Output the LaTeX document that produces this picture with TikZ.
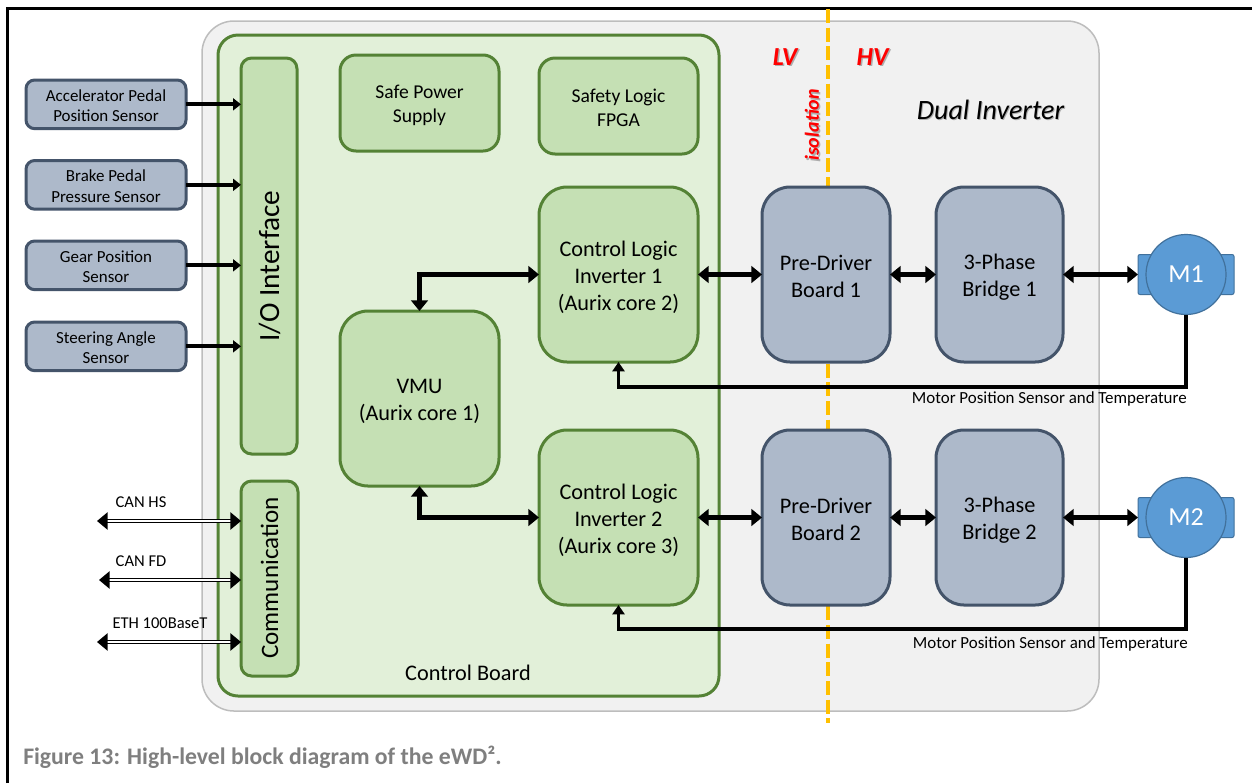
\documentclass[tikz,border=0pt]{standalone}
\usepackage{fontspec}
\setmainfont{Carlito}
\usetikzlibrary{arrows.meta,shapes.geometric}
\definecolor{outerfill}{HTML}{F1F1F1}
\definecolor{outerline}{HTML}{BDBDBD}
\definecolor{gfill}{HTML}{E2F0D9}
\definecolor{gbox}{HTML}{C5E0B4}
\definecolor{gline}{HTML}{548235}
\definecolor{bfill}{HTML}{ADB9CA}
\definecolor{bline}{HTML}{44546A}
\definecolor{mfill}{HTML}{5B9BD5}
\definecolor{mline}{HTML}{41719C}
\definecolor{capt}{HTML}{7F7F7F}
\definecolor{iso}{HTML}{FFC000}
\newcommand{\firstline}[1]{\rule{0pt}{#1}}
\tikzset{
 x=0.75pt,y=-0.75pt,
 px/.style={line width=#1*0.75pt},
 anchored/.style={anchor=north west,inner sep=0pt,outer sep=0pt,align=center},
 gbx/.style={anchored,fill=gbox,draw=gline,px=3},
 bbx/.style={anchored,fill=bfill,draw=bline,px=3},
 smallbox/.style={rounded corners=12pt,minimum width=119.25pt,minimum height=72pt,font=\fontsize{14.7pt}{18pt}\selectfont},
 bigtext/.style={rounded corners=21pt,minimum height=131.25pt,font=\fontsize{16.7pt}{20.2pt}\selectfont},
 sens/.style={anchored,fill=bfill,draw=bline,px=3,rounded corners=6.5pt,minimum width=120pt,minimum height=36.5pt,font=\fontsize{12.7pt}{15.5pt}\selectfont},
 lab/.style={inner sep=0pt,font=\fontsize{12.4pt}{14pt}\selectfont},
 mlab/.style={inner sep=0pt,anchor=east,font=\fontsize{12.7pt}{14pt}\selectfont},
 one/.style={px=4,-{Triangle[length=6pt,width=9pt]}},
 two/.style={px=4.5,{Triangle[length=8pt,width=12.5pt]}-{Triangle[length=8pt,width=12.5pt]}},
 ctl/.style={px=3.4,-{Triangle[length=7pt,width=9pt]},rounded corners=0pt},
 bus/.style={px=1.7,double,double distance=0.8pt,{Triangle[length=8pt,width=13pt]}-{Triangle[length=8pt,width=13pt]}},
 red/.style={text=red,font=\bfseries\itshape\fontsize{19.5pt}{22pt}\selectfont,inner sep=0pt},
 redsm/.style={red,rotate=90,font=\bfseries\itshape\fontsize{15pt}{17pt}\selectfont},
 shade/.style={text=black,text opacity=0.28},
 dualtxt/.style={font=\itshape\fontsize{21pt}{24pt}\selectfont,inner sep=0pt},
 motor/.style={circle,fill=mfill,draw=mline,px=1.2,inner sep=0pt,minimum size=60pt,text=white,font=\fontsize{19.5pt}{22pt}\selectfont},
}
\begin{document}
\begin{tikzpicture}
\useasboundingbox (0,0) rectangle (1252,783);
\fill[white] (0,0) rectangle (1252,783);
\draw[black,px=3] (7,783) -- (7,8) -- (1252,8);
% outer
\node[anchored,fill=outerfill,draw=outerline,px=1.5,rounded corners=24pt,minimum width=672.75pt,minimum height=517.5pt] (outer) at (202,21) {};
\node[anchored,fill=gfill,draw=gline,px=3,rounded corners=15pt,minimum width=375.75pt,minimum height=495.75pt] (board) at (218,35) {};
% isolation line
\coordinate (isoT) at (828,9);
\coordinate (isoB) at (828,723);
\draw[iso,px=4,dash pattern=on 10.5pt off 3.5pt] (isoT) -- (isoB);
% left column
\node[gbx,rounded corners=8pt,minimum width=42pt,minimum height=297pt] (io) at (241,58) {};
\node[rotate=90,font=\fontsize{22pt}{24pt}\selectfont,inner sep=0pt] (iot) at (269.5,266) {I/O Interface};
\node[gbx,rounded corners=8pt,minimum width=42.75pt,minimum height=146.25pt] (com) at (241,481) {};
\node[rotate=90,font=\fontsize{18.8pt}{22pt}\selectfont,inner sep=0pt] (comt) at (269.5,578) {Communication};
% green boxes
\node[gbx,smallbox] (spow) at (340,55) {\firstline{14pt}Safe Power\\Supply};
\node[gbx,smallbox] (slog) at (539,58) {\firstline{13pt}Safety Logic\\FPGA};
\node[gbx,bigtext,minimum width=119.25pt] (cl1) at (539,187) {\firstline{15.5pt}Control Logic\\Inverter 1\\(Aurix core 2)};
\node[gbx,bigtext,minimum width=119.25pt] (cl2) at (539,430) {\firstline{15.5pt}Control Logic\\Inverter 2\\(Aurix core 3)};
\node[gbx,bigtext,minimum width=119.25pt] (vmu) at (340,311) {\firstline{15.5pt}VMU\\(Aurix core 1)};
% blue boxes
\node[bbx,bigtext,minimum width=96pt] (pd1) at (762,187) {\firstline{14pt}Pre-Driver\\Board 1};
\node[bbx,bigtext,minimum width=96pt] (pd2) at (762,430) {\firstline{14pt}Pre-Driver\\Board 2};
\node[bbx,bigtext,minimum width=95.25pt] (br1) at (936,187) {\firstline{15.5pt}3-Phase\\Bridge 1};
\node[bbx,bigtext,minimum width=95.25pt] (br2) at (936,430) {\firstline{15.5pt}3-Phase\\Bridge 2};
% sensors
\node[sens] (s1) at (26,80) {\firstline{11pt}Accelerator Pedal\\Position Sensor};
\node[sens] (s2) at (26,160.5) {\firstline{11pt}Brake Pedal\\Pressure Sensor};
\node[sens] (s3) at (26,241) {\firstline{11pt}Gear Position\\Sensor};
\node[sens] (s4) at (26,322) {\firstline{11pt}Steering Angle\\Sensor};
% motors
\foreach \n/\y in {1/254.5,2/497.5}{
 \node[anchored,fill=mfill,draw=mline,px=1,rounded corners=1.5pt,minimum width=72pt,minimum height=30pt] (mb\n) at (1138,\y) {};
}
\node[motor] (m1) at (mb1.center) {M1};
\node[motor] (m2) at (mb2.center) {M2};
% sensor arrows
\foreach \i in {1,2,3,4} \draw[one] (s\i.east) -- (io.west |- s\i.east);
% horizontal bidirectional
\draw[two] (cl1.east) -- (pd1.west);
\draw[two] (pd1.east) -- (br1.west);
\draw[two] (br1.east) -- (mb1.west);
\draw[two] (cl2.east) -- (pd2.west);
\draw[two] (pd2.east) -- (br2.west);
\draw[two] (br2.east) -- (mb2.west);
% VMU links
\draw[two] (vmu.north) |- (cl1.west);
\draw[two] (vmu.south) |- (cl2.west);
% motor feedback
\coordinate (fb1) at (1186,387);
\coordinate (fb2) at (1186,629);
\draw[ctl] (m1.south) -- (fb1) -| (cl1.south);
\draw[ctl] (m2.south) -- (fb2) -| (cl2.south);
% buses
\coordinate (c1) at (97,521);
\coordinate (c2) at (99,580);
\coordinate (c3) at (97,642);
\draw[bus] (c1) -- (com.west |- c1);
\draw[bus] (c2) -- (com.west |- c2);
\draw[bus] (c3) -- (com.west |- c3);
% labels
\node[lab] (lc1) at (141,502) {CAN HS};
\node[lab] (lc2) at (141,561) {CAN FD};
\node[lab] (lc3) at (160,623) {ETH 100BaseT};
\node[mlab] (lt1) at (1187,399) {Motor Position Sensor and Temperature};
\node[mlab] (lt2) at (1188,644) {Motor Position Sensor and Temperature};
\node[font=\fontsize{16.7pt}{20pt}\selectfont,inner sep=0pt] (cb) at (468,673) {Control Board};
\node[red,shade] (lvs) at (786.5,58.5) {LV};
\node[red] (lv) at (785,57) {LV};
\node[red,shade] (hvs) at (874,58.5) {HV};
\node[red] (hv) at (872.5,57) {HV};
\node[redsm,shade] (isols) at (813.5,126.5) {isolation};
\node[redsm] (isol) at (812,125) {isolation};
\node[dualtxt,shade] (duals) at (991.5,110.5) {Dual Inverter};
\node[dualtxt] (dual) at (990.5,109.5) {Dual Inverter};
\node[anchor=west,text=capt,inner sep=0pt,font=\bfseries\fontsize{17.8pt}{20pt}\selectfont] (cap) at (23,757) {Figure 13: High-level block diagram of the eWD².};
\end{tikzpicture}
\end{document}
